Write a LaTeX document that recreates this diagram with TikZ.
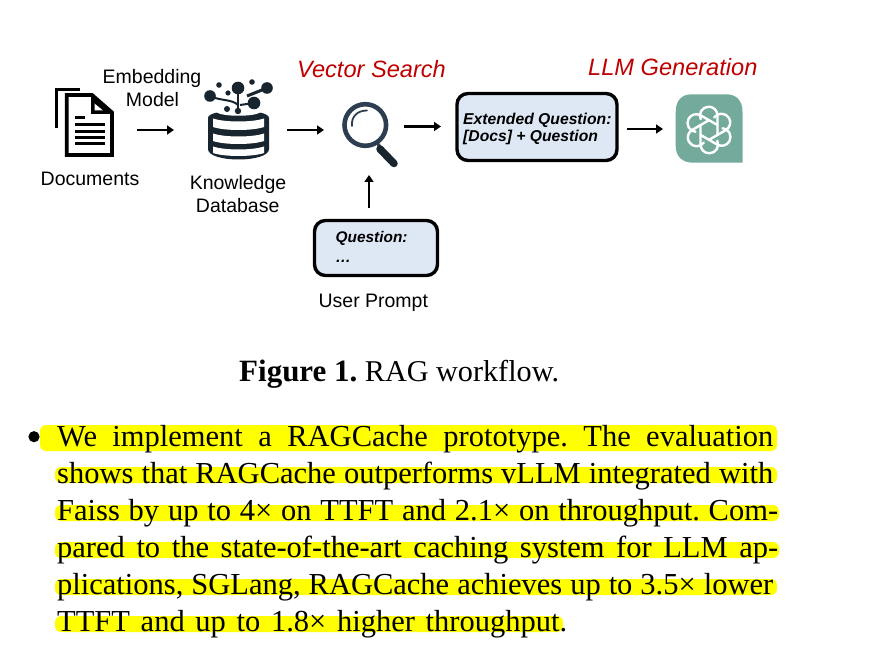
\documentclass[tikz,border=0pt]{standalone}
\usepackage{fontspec}
\setmainfont{Liberation Serif}
\newfontfamily\diagfont{Liberation Sans}
\usetikzlibrary{arrows.meta}
\definecolor{boxblue}{HTML}{DEE8F4}
\definecolor{headred}{HTML}{C00000}
\definecolor{gptgreen}{HTML}{74AA9C}
\definecolor{dbdark}{HTML}{18242E}
\definecolor{glassdark}{HTML}{2C3E50}
\definecolor{marker}{HTML}{FFFF00}
\newcommand{\bodyline}[3]{\node[bodytext] (#1) at #2 {#3};}
\tikzset{
  flow/.style={draw=black,line width=2.5pt,-{Triangle[length=7pt,width=9pt]}},
  qbox/.style={draw=black,fill=boxblue,line width=3.4pt,rounded corners=11pt,anchor=north west,inner sep=0pt,outer sep=0pt},
  label/.style={font=\diagfont\fontsize{19.5}{22}\selectfont,inner sep=0pt,anchor=base,text=black},
  head/.style={font=\diagfont\itshape\fontsize{23.6}{26}\selectfont,inner sep=0pt,anchor=base west,text=headred},
  boxtext/.style={font=\diagfont\bfseries\itshape\fontsize{15.7}{18}\selectfont,inner sep=0pt,anchor=base west},
  asktext/.style={font=\diagfont\bfseries\itshape\fontsize{15.4}{18}\selectfont,inner sep=0pt,anchor=base west},
  bodytext/.style={font=\fontsize{30.5}{34}\selectfont\frenchspacing,inner sep=0pt,anchor=base west},
  icon/.style={inner sep=0pt,outer sep=0pt,minimum width=#1,minimum height=2pt},
  hl/.style={fill=marker,rounded corners=6pt},
}
\begin{document}
\begin{tikzpicture}[x=1pt,y=-1pt]
\useasboundingbox (0,0) rectangle (878,660);
\fill[white] (0,0) rectangle (878,660);

% documents icon
\draw[line width=3.6pt,line join=miter] (80,89.5) -- (56.5,89.5) -- (56.5,128);
\draw[line width=3.8pt,fill=white,line join=miter] (66.8,95) -- (92,95) -- (112,112.5) -- (112,155) -- (66.8,155) -- cycle;
\fill (91,95) -- (91,114) -- (112,114) -- cycle;
\fill[white] (94.5,103.5) -- (94.5,110.5) -- (103,110.5) -- cycle;
\fill (75,116.5) rectangle (85,119);
\foreach \yy in {123.5,130,136.5,142.5}{\fill (75,\yy) rectangle (104.5,\yy+2.8);}
\node[icon=45pt] (docs) at (89.5,130) {};
\node[label] (docslabel) at (90,186) {Documents};

\node[label] (emb1) at (152,84) {Embedding};
\node[label] (emb2) at (152.5,107) {Model};

% database icon
\fill[dbdark] (208,118) .. controls (208,108) and (269,108) .. (269,118) -- (269,149)
  .. controls (269,163) and (208,163) .. (208,149) -- cycle;
\foreach \dy/\hh in {0/8.5,15/7.5,28/6.5}{
  \fill[white] (213,118.5+\dy) .. controls (225,122.5+\dy) and (252,122.5+\dy) .. (264,118.5+\dy)
    -- (264,118.5+\dy+\hh) .. controls (252,122.5+\dy+\hh) and (225,122.5+\dy+\hh) .. (213,118.5+\dy+\hh) -- cycle;
}
\fill[white] (216,112) .. controls (222,117) and (255,117) .. (261,112) -- (261,105) -- (216,105) -- cycle;
\draw[dbdark,line width=2pt] (210,96) .. controls (220,101) and (232,99) .. (238,105);
\draw[dbdark,line width=2pt] (238,88) -- (238,111);
\draw[dbdark,line width=2pt] (254,103) -- (240,105);
\draw[dbdark,line width=3pt] (247,96) -- (267,88);
\foreach \cx/\cy/\rr in {210/96/5.8,238/88/6.3,267/88/5.8,254/103/6.3,219/85/2.8,252/82/2.8,228/93/2.6,227/109/3,238/111/3.2}{
  \fill[dbdark] (\cx,\cy) circle[radius=\rr];
}
\node[icon=61pt] (db) at (238.5,130) {};
\node[label] (db1) at (238,189.5) {Knowledge};
\node[label] (db2) at (237.7,212.5) {Database};

% magnifier icon
\draw[glassdark,line width=4.6pt] (365.3,125) circle[radius=20.8];
\draw[glassdark,line width=1.8pt,line cap=round] (352,126) .. controls (351,116) and (358,110.5) .. (367,110.5);
\draw[glassdark,line width=3pt] (377,143) -- (382,149);
\draw[dbdark,line width=7.5pt,line cap=round] (380,149) -- (394,163.5);
\node[icon=60pt] (lens) at (369,130) {};
\node[icon=60pt] (lensout) at (369,126.5) {};
\node[icon=30pt,minimum height=50pt] (lensbelow) at (369,150) {};

% boxes
\node[qbox,minimum width=160pt,minimum height=67pt] (ext) at (457,93.5) {};
\node[boxtext] (ext1) at (463,124.5) {Extended Question:};
\node[boxtext] (ext2) at (463,142) {[Docs] + Question};

\node[qbox,minimum width=123pt,minimum height=55pt] (ask) at (314.5,220.5) {};
\node[asktext] (ask1) at (335.5,243) {Question:};
\node[asktext] (ask2) at (335.5,263) {…};
\node[label] (asklabel) at (373.3,308) {User Prompt};

% headings
\node[head] (vs) at (297,78) {Vector Search};
\node[head] (gen) at (588,76) {LLM Generation};

% model icon
\fill[gptgreen] (675.7,112) .. controls (675.7,100) and (682,94.3) .. (692,94.3) -- (726,94.3)
  .. controls (736,94.3) and (742.5,100) .. (742.5,112) -- (742.5,162.7) -- (693,162.7)
  .. controls (682,162.7) and (675.7,156) .. (675.7,146) -- cycle;
\foreach \a in {0,60,...,300}{
  \begin{scope}[shift={(709,130)},rotate=\a]
    \draw[white,line width=2.4pt,line join=round,line cap=round] (8.5,5) -- (8.5,-14.5) arc[start angle=0,end angle=-205,radius=8.8];
  \end{scope}
}
\node[icon=67pt] (gpt) at (709,129) {};

% connectors
\draw[flow,shorten <=25pt,shorten >=34pt] (docs.east) -- (db.west);
\draw[flow,shorten <=18pt,shorten >=15pt] (db.east) -- (lens.west);
\draw[flow,shorten <=5pt,shorten >=16pt] (lensout.east) -- (ext.west |- lensout.east);
\draw[flow,shorten <=10pt,shorten >=12.5pt] (ext.east |- gpt.west) -- (gpt.west);
\draw[flow,shorten <=12pt] (ask.north -| lensbelow.south) -- (lensbelow.south);

% caption
\node[bodytext] (cap) at (239,381) {\hbox to 320pt{\fontsize{31}{34}\selectfont\textbf{Figure 1.}\hfil\fontsize{30.2}{34}\selectfont RAG workflow.}};

% highlighted item
\fill[hl] (40,425) rectangle (777,451);
\fill[hl] (55,467) rectangle (777,483);
\fill[hl] (55,505) rectangle (779,521);
\fill[hl] (55,542) rectangle (779,558);
\fill[hl] (55,579) rectangle (777,595);
\fill[hl] (55,616) rectangle (563,632);
\fill[black] (34,436.7) circle[radius=5.6];
\bodyline{l1}{(57,446)}{\hbox to 716pt{We implement a RAGCache prototype. The evaluation}}
\bodyline{l2}{(57,483)}{\hbox to 716pt{shows that RAGCache outperforms vLLM integrated with}}
\bodyline{l3}{(57,520)}{\hbox to 721pt{Faiss by up to 4× on TTFT and 2.1× on throughput. Com-}}
\bodyline{l4}{(57,557)}{\hbox to 721pt{pared to the state-of-the-art caching system for LLM ap-}}
\bodyline{l5}{(57,594)}{\hbox to 716pt{plications, SGLang, RAGCache achieves up to 3.5× lower}}
\bodyline{l6}{(57,631)}{\hbox to 510pt{TTFT and up to 1.8× higher throughput.}}
\end{tikzpicture}
\end{document}
